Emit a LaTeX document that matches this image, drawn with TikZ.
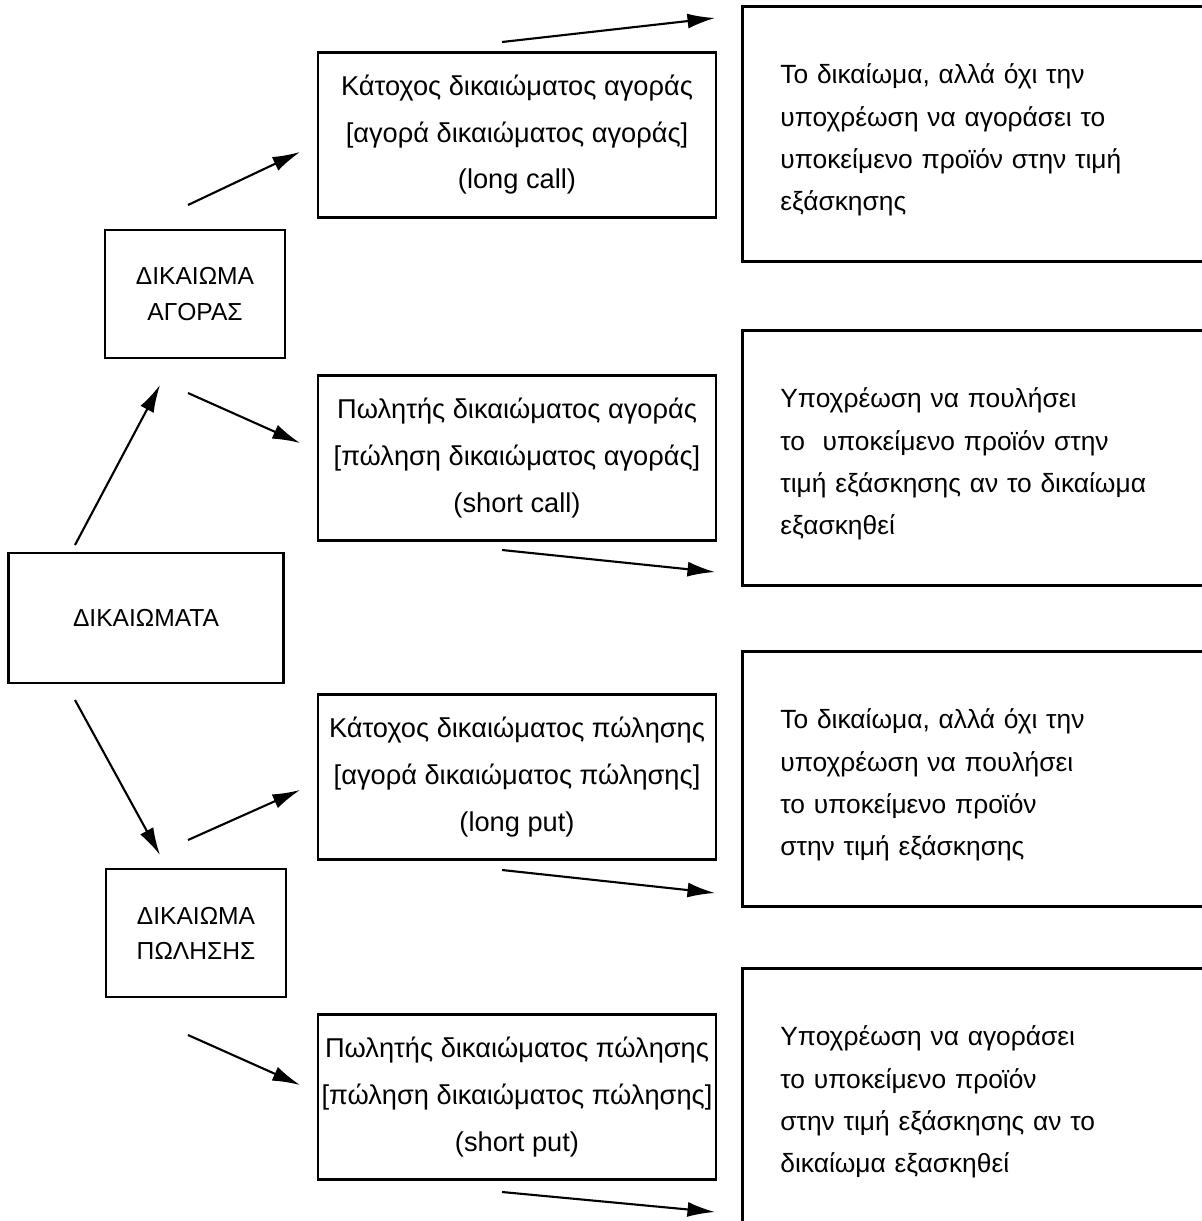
\documentclass[tikz,border=0pt]{standalone}
\usepackage{fontspec}
\setmainfont{Liberation Sans}
\usetikzlibrary{arrows.meta}
\tikzset{
	box/.style={draw, line width=1.6pt, inner sep=0pt},
	rootbox/.style={box, align=center, minimum width=5.5cm, minimum height=2.6cm, font=\fontsize{14}{20}\selectfont},
	kindbox/.style={box, align=center, minimum width=3.6cm, minimum height=2.56cm, font=\fontsize{14}{20}\selectfont},
	rolebox/.style={box, align=center, minimum width=7.96cm, minimum height=3.3cm, font=\fontsize{15.5}{26.5}\selectfont},
	dutybox/.style={box, anchor=west, align=left, text width=8.5cm, inner xsep=0.76cm, minimum height=5.1cm, font=\fontsize{15}{24}\selectfont, execute at begin node=\rule{0pt}{18pt}},
	arr/.style={-{Latex[length=0.55cm,width=0.3cm]}, line width=1.2pt}
}
\begin{document}
\begin{tikzpicture}[x=0.02cm, y=-0.02cm]
		\useasboundingbox (0,0) rectangle (1202,1221);
		\clip (0,0) rectangle (1202,1221);
		% left column
		\node[rootbox] (root) at (146,618) {ΔΙΚΑΙΩΜΑΤΑ};
		\node[kindbox] (call) at (195,294) {ΔΙΚΑΙΩΜΑ\\ΑΓΟΡΑΣ};
		\node[kindbox] (put) at (196,933) {ΔΙΚΑΙΩΜΑ\\ΠΩΛΗΣΗΣ};
		% middle column
		\node[rolebox] (lc) at (517,135) {Κάτοχος δικαιώματος αγοράς\\{[}αγορά δικαιώματος αγοράς{]}\\(long call)};
		\node[rolebox] (sc) at (517,458) {Πωλητής δικαιώματος αγοράς\\{[}πώληση δικαιώματος αγοράς{]}\\(short call)};
		\node[rolebox] (lp) at (517,777) {Κάτοχος δικαιώματος πώλησης\\{[}αγορά δικαιώματος πώλησης{]}\\(long put)};
		\node[rolebox] (sp) at (517,1097) {Πωλητής δικαιώματος πώλησης\\{[}πώληση δικαιώματος πώλησης{]}\\(short put)};
		% right column
		\node[dutybox] (lcd) at (741,134) {Το δικαίωμα, αλλά όχι την\\υποχρέωση να αγοράσει το\\υποκείμενο προϊόν στην τιμή\\εξάσκησης};
		\node[dutybox] (scd) at (741,458) {Υποχρέωση να πουλήσει\\το \ υποκείμενο προϊόν στην\\τιμή εξάσκησης αν το δικαίωμα\\εξασκηθεί};
		\node[dutybox] (lpd) at (741,779) {Το δικαίωμα, αλλά όχι την\\υποχρέωση να πουλήσει\\το υποκείμενο προϊόν\\στην τιμή εξάσκησης};
		\node[dutybox] (spd) at (741,1096) {Υποχρέωση να αγοράσει\\το υποκείμενο προϊόν\\στην τιμή εξάσκησης αν το\\δικαίωμα εξασκηθεί};
		% arrow ends
		\coordinate (r1) at (75,545);  \coordinate (c0) at (160,385);
		\coordinate (r2) at (75,700);  \coordinate (p0) at (160,855);
		\coordinate (c1) at (188,205); \coordinate (lc0) at (300,152);
		\coordinate (c2) at (188,393); \coordinate (sc0) at (300,443);
		\coordinate (p1) at (188,840); \coordinate (lp0) at (300,790);
		\coordinate (p2) at (188,1035); \coordinate (sp0) at (300,1085);
		\coordinate (lc1) at (502,42);  \coordinate (lcd0) at (715,18);
		\coordinate (sc1) at (502,550); \coordinate (scd0) at (715,572);
		\coordinate (lp1) at (502,870); \coordinate (lpd0) at (715,893);
		\coordinate (sp1) at (502,1192); \coordinate (spd0) at (715,1212);
		\foreach \a/\b in {r1/c0, r2/p0, c1/lc0, c2/sc0, p1/lp0, p2/sp0, lc1/lcd0, sc1/scd0, lp1/lpd0, sp1/spd0}
			\draw[arr] (\a) -- (\b);
\end{tikzpicture}
\end{document}
